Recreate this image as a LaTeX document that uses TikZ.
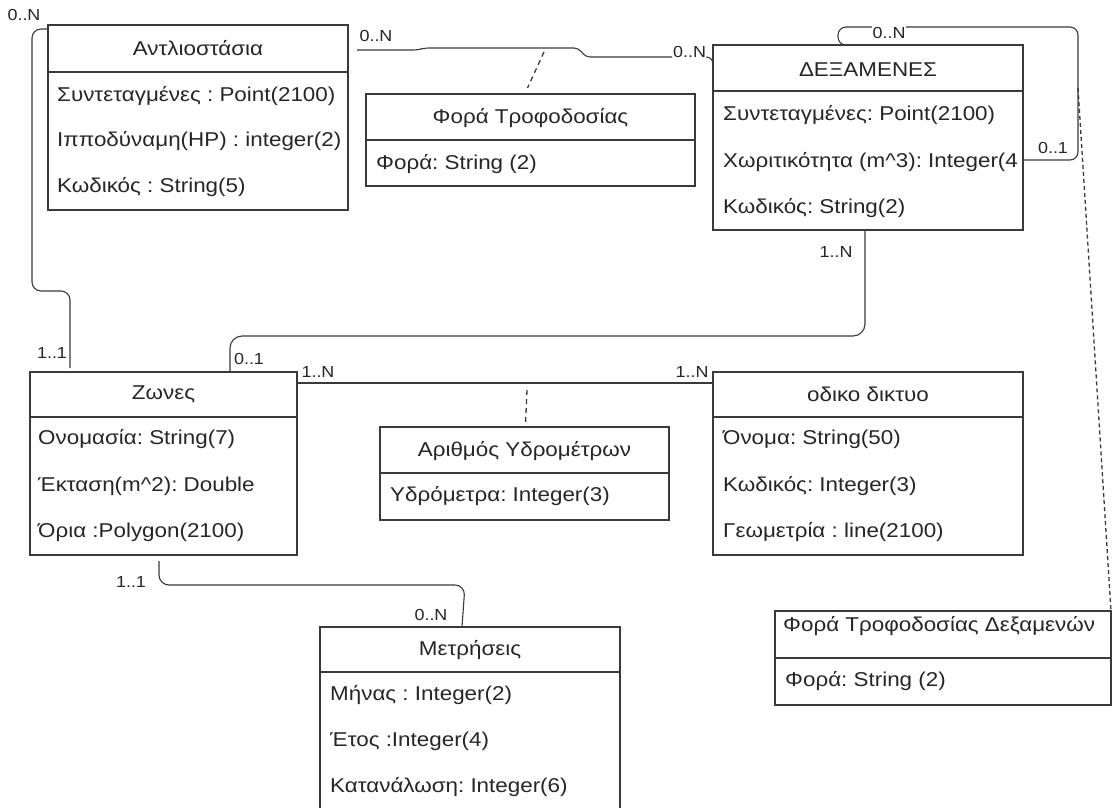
\documentclass[tikz,border=0pt]{standalone}
\usepackage{fontspec}
\setmainfont{Liberation Sans}[FakeStretch=1.12]
\usetikzlibrary{calc}
\definecolor{ln}{HTML}{3A3A3A}
\definecolor{tx}{HTML}{262626}
\frenchspacing
\begin{document}
\begin{tikzpicture}[x=1pt,y=-1pt,
  box/.style={draw=ln, line width=1.1pt, anchor=north west, inner sep=0pt, outer sep=0pt},
  divl/.style={draw=ln, line width=1.1pt},
  ttl/.style={text=tx, font=\fontsize{20}{23}\selectfont, inner sep=0pt},
  attr/.style={text=tx, font=\fontsize{20}{23}\selectfont, anchor=west, inner sep=0pt},
  mult/.style={text=tx, font=\fontsize{16}{18}\selectfont, inner sep=0pt},
  conn/.style={draw=ln, line width=1.1pt, rounded corners=9pt},
  assoc/.style={draw=ln, line width=1.3pt, dash pattern=on 5pt off 4pt}]
\useasboundingbox (0,0) rectangle (1114,807);
\fill[white] (0,0) rectangle (1114,807);

% ---------- Antliostasia
\node[box, minimum width=300pt, minimum height=185pt] (ant) at (48,25) {};
\draw[divl] ($(ant.north west)+(0,47)$) -- ($(ant.north east)+(0,47)$);
\node[ttl] (antt) at ($(ant.north)+(0,23)$) {Αντλιοστάσια};
\node[attr] (anta1) at ($(ant.north west)+(9,71)$) {Συντεταγμένες : Point(2100)};
\node[attr] (anta2) at ($(ant.north west)+(9,116)$) {Ιπποδύναμη(HP) : integer(2)};
\node[attr] (anta3) at ($(ant.north west)+(9,162)$) {Κωδικός : String(5)};

% ---------- Fora Trofodosias
\node[box, minimum width=329pt, minimum height=92pt] (ftr) at (366,94) {};
\draw[divl] ($(ftr.north west)+(0,46)$) -- ($(ftr.north east)+(0,46)$);
\node[ttl] (ftrt) at ($(ftr.north)+(0,24)$) {Φορά Τροφοδοσίας};
\node[attr] (ftra1) at ($(ftr.north west)+(10,70)$) {Φορά: String (2)};

% ---------- Dexamenes
\node[box, minimum width=310pt, minimum height=185pt] (dex) at (713,45) {};
\draw[divl] ($(dex.north west)+(0,46)$) -- ($(dex.north east)+(0,46)$);
\node[ttl] (dext) at ($(dex.north)+(0,25)$) {ΔΕΞΑΜΕΝΕΣ};
\node[attr] (dexa1) at ($(dex.north west)+(10,70)$) {Συντεταγμένες: Point(2100)};
\node[attr] (dexa2) at ($(dex.north west)+(10,117)$) {Χωριτικότητα (m\^{}3): Integer(4};
\node[attr] (dexa3) at ($(dex.north west)+(10,163)$) {Κωδικός: String(2)};

% ---------- Zones
\node[box, minimum width=267pt, minimum height=183pt] (zon) at (30,372) {};
\draw[divl] ($(zon.north west)+(0,45)$) -- ($(zon.north east)+(0,45)$);
\node[ttl] (zont) at ($(zon.north)+(0,22)$) {Ζωνες};
\node[attr] (zona1) at ($(zon.north west)+(8,67)$) {Ονομασία: String(7)};
\node[attr] (zona2) at ($(zon.north west)+(8,114)$) {Έκταση(m\^{}2): Double};
\node[attr] (zona3) at ($(zon.north west)+(8,160)$) {Όρια :Polygon(2100)};

% ---------- Arithmos Ydrometron
\node[box, minimum width=289pt, minimum height=93pt] (ary) at (380,427) {};
\draw[divl] ($(ary.north west)+(0,46)$) -- ($(ary.north east)+(0,46)$);
\node[ttl] (aryt) at ($(ary.north)+(0,24)$) {Αριθμός Υδρομέτρων};
\node[attr] (arya1) at ($(ary.north west)+(10,69)$) {Υδρόμετρα: Integer(3)};

% ---------- Odiko diktyo
\node[box, minimum width=310pt, minimum height=183pt] (road) at (713,372) {};
\draw[divl] ($(road.north west)+(0,45)$) -- ($(road.north east)+(0,45)$);
\node[ttl] (roadt) at ($(road.north)+(0,22)$) {οδικο δικτυο};
\node[attr] (roada1) at ($(road.north west)+(10,67)$) {Όνομα: String(50)};
\node[attr] (roada2) at ($(road.north west)+(10,114)$) {Κωδικός: Integer(3)};
\node[attr] (roada3) at ($(road.north west)+(10,160)$) {Γεωμετρία : line(2100)};

% ---------- Metriseis
\node[box, minimum width=300pt, minimum height=188pt] (met) at (320,627) {};
\draw[divl] ($(met.north west)+(0,45)$) -- ($(met.north east)+(0,45)$);
\node[ttl] (mett) at ($(met.north)+(0,23)$) {Μετρήσεις};
\node[attr] (meta1) at ($(met.north west)+(10,68)$) {Μήνας : Integer(2)};
\node[attr] (meta2) at ($(met.north west)+(10,114)$) {Έτος :Integer(4)};
\node[attr] (meta3) at ($(met.north west)+(10,160)$) {Κατανάλωση: Integer(6)};

% ---------- Fora Trofodosias Dexamenon
\node[box, minimum width=336pt, minimum height=94pt] (fd) at (775,611) {};
\draw[divl] ($(fd.north west)+(0,47)$) -- ($(fd.north east)+(0,47)$);
\node[attr] (fdt) at ($(fd.north west)+(8,15)$) {Φορά Τροφοδοσίας Δεξαμενών};
\node[attr] (fda1) at ($(fd.north west)+(10,70)$) {Φορά: String (2)};

% ---------- connectors
% Antliostasia -- Zones
\draw[conn] ($(ant.north west)+(0,4)$) -- (32,29) -- (32,291) -- (70,291) -- ($(zon.north west)+(40,-4)$);
\node[mult] (m1) at (24,15) {0..N};
\node[mult] (m2) at (52,353) {1..1};

% Antliostasia -- Dexamenes
\coordinate (c1) at (357,50);
\coordinate (c2) at (672,57);
\draw[conn, rounded corners=4pt] (c1) -- (418,50) -- (424,48) -- (578,48) -- (586,57) -- (c2);
\node[mult] (m3) at (376,36) {0..N};
\node[mult, anchor=west] (m4) at (673,52) {0..N};
\draw[draw=ln, line width=1.1pt] (m4.east) ++(0,5) to[out=0,in=100] ($(dex.north west)+(0,18)$);
\coordinate (c3) at (544,52);
\draw[assoc] (c3) -- ($(ftr.north)+(-3,-6)$);

% Dexamenes self association
\draw[conn, rounded corners=8pt] ($(dex.north west)+(134,0)$) -- ($(dex.north west)+(125,0)$) -- (838,27) -- (1078,27) -- (1078,160) -- ($(dex.east)+(0,22.5)$);
\node[mult, fill=white, inner sep=1pt] (m5) at (889,33) {0..N};
\node[mult] (m6) at (1053,148) {0..1};
\coordinate (c4) at (1078,88);
\draw[assoc, dash pattern=on 4pt off 3pt] (c4) -- (fd.north east);

% Dexamenes -- Zones
\draw[conn, rounded corners=12pt] ($(dex.south)+(-3,0)$) -- (865,336) -- (230,336) -- ($(zon.north west)+(200,0)$);
\node[mult] (m7) at (836,252) {1..N};
\node[mult] (m8) at (249,359) {0..1};

% Zones -- Odiko diktyo
\draw[draw=ln, line width=1.1pt] ($(zon.north east)+(0,11)$) -- ($(road.north west)+(0,11)$);
\node[mult] (m9) at (318,372) {1..N};
\node[mult] (m10) at (692,372) {1..N};
\coordinate (c5) at (527,390);
\draw[assoc] (c5) -- ($(ary.north)+(1,-2)$);

% Zones -- Metriseis
\draw[conn, rounded corners=10pt] ($(zon.south west)+(129,6)$) -- (159,585) -- (465,585) -- ($(met.north west)+(142,0)$);
\node[mult] (m11) at (131,582) {1..1};
\node[mult] (m12) at (431,615) {0..N};
\end{tikzpicture}
\end{document}
